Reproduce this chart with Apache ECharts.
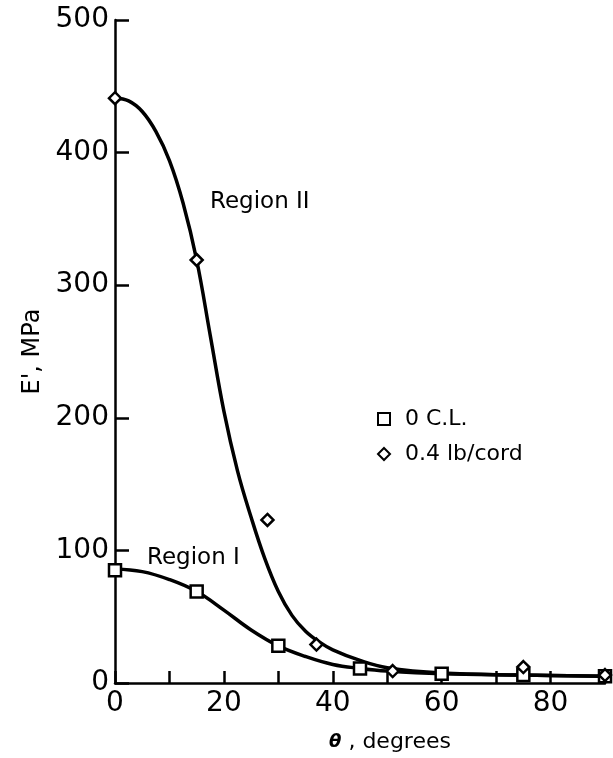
<!DOCTYPE html>
<html>
<head>
<meta charset="utf-8">
<script src="https://cdn.jsdelivr.net/npm/echarts@6/dist/echarts.min.js"></script>
<style>
html,body{margin:0;padding:0;background:#fff;}
#chart{width:613px;height:758px;}
</style>
</head>
<body>
<div id="chart"></div>
<script>
'use strict';
// measured points, 0 C.L.
var clAngle = [0, 15, 30, 45, 60, 75, 90];
var clValue = [85, 69, 28, 11, 7, 6, 5];
// measured points, 0.4 lb/cord
var cordAngle = [0, 15, 28, 37, 51, 75, 90];
var cordValue = [441, 319, 123, 29, 9, 12, 6];
// hand drawn curve, Region I
var fitIAngle = [0, 5, 10, 15, 20, 25, 30, 35, 40, 45, 50, 60, 75, 90];
var fitIValue = [86, 84, 78, 69, 55, 40, 28, 20, 14, 11, 9, 7, 6, 5];
// hand drawn curve, Region II
var fitIIAngle = [0, 2.5, 5, 7.5, 10, 12.5, 15, 17.5, 20, 22.5, 25, 27.5, 30, 32.5, 35, 37.5, 40, 45, 50, 60, 75, 90];
var fitIIValue = [441, 439, 431, 416, 394, 362, 319, 262, 205, 160, 125, 94, 69, 51, 39, 31, 25, 17, 11.5, 7.5, 6, 5];
var xTicks = [0, 20, 40, 60, 80];

var font = 'DejaVu Sans';

function pairs(xs, ys){
    var out = [];
    for(var i = 0; i < xs.length; i++){
        out.push([xs[i], ys[i]]);
    }
    return out;
}

var myChart = echarts.init(document.getElementById('chart'));
var option = {
    backgroundColor: '#fff',
    animation: false,
    grid: { left: 115, right: 8, top: 20, bottom: 71, containLabel: false },
    legend: {
        orient: 'vertical',
        left: 372,
        top: 403,
        itemGap: 13,
        itemWidth: 12,
        itemHeight: 12,
        textStyle: { fontFamily: font, fontSize: 22, color: '#000', padding: [0, 0, 0, 10] },
        data: ['0 C.L.', '0.4 lb/cord']
    },
    xAxis: {
        type: 'value',
        min: 0, max: 90, interval: 10,
        name: '{t|θ} , degrees',
        nameLocation: 'middle',
        nameGap: 48,
        nameTextStyle: {
            fontFamily: font, fontSize: 22, color: '#000', padding: [0, 0, 0, 60],
            rich: { t: { fontFamily: font, fontSize: 18, fontStyle: 'italic', fontWeight: 'bold' } }
        },
        axisLine: { lineStyle: { color: '#000', width: 2.5 } },
        axisTick: { inside: true, length: 12, lineStyle: { color: '#000', width: 2.5 } },
        axisLabel: {
            margin: 7, fontFamily: font, fontSize: 28, color: '#000',
            formatter: function(v){ return xTicks.indexOf(v) >= 0 ? String(v) : ''; }
        },
        splitLine: { show: false }
    },
    yAxis: {
        type: 'value',
        min: 0, max: 500, interval: 100,
        name: "E', MPa",
        nameLocation: 'middle',
        nameGap: 70,
        nameTextStyle: { fontFamily: font, fontSize: 24, color: '#000' },
        axisLine: { lineStyle: { color: '#000', width: 2.5 } },
        axisTick: { inside: true, length: 14, lineStyle: { color: '#000', width: 2.5 } },
        axisLabel: { margin: 6, fontFamily: font, fontSize: 28, color: '#000' },
        splitLine: { show: false }
    },
    graphic: [
        {
            type: 'text', left: 147, top: 547, silent: true,
            style: { text: 'Region I', font: '23px "DejaVu Sans"', fill: '#000' }
        },
        {
            type: 'text', left: 210, top: 191, silent: true,
            style: { text: 'Region II', font: '23px "DejaVu Sans"', fill: '#000' }
        }
    ],
    series: [
        {
            name: 'Region I', type: 'line', smooth: 0.4, showSymbol: false,
            lineStyle: { color: '#000', width: 3.5 },
            data: pairs(fitIAngle, fitIValue), z: 2
        },
        {
            name: 'Region II', type: 'line', smooth: 0.4, showSymbol: false,
            lineStyle: { color: '#000', width: 3.5 },
            data: pairs(fitIIAngle, fitIIValue), z: 2
        },
        {
            name: '0 C.L.', type: 'scatter', symbol: 'rect', symbolSize: 12,
            itemStyle: { color: '#fff', borderColor: '#000', borderWidth: 2.5, opacity: 1 },
            data: pairs(clAngle, clValue), z: 5
        },
        {
            name: '0.4 lb/cord', type: 'scatter', symbol: 'diamond', symbolSize: 12,
            itemStyle: { color: '#fff', borderColor: '#000', borderWidth: 2.5, opacity: 1 },
            data: pairs(cordAngle, cordValue), z: 6
        }
    ]
};
myChart.setOption(option);
</script>
</body>
</html>
